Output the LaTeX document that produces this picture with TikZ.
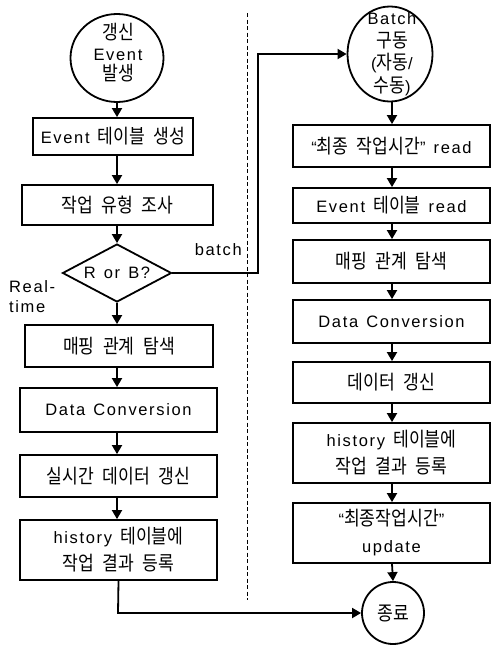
\documentclass[tikz,border=0pt]{standalone}
\usepackage{fontspec}
\usepackage{graphicx}
\usetikzlibrary{arrows.meta,shapes.geometric}
\setmainfont{Liberation Sans}[LetterSpace=10,WordSpace=1.3]
\newfontfamily\krf{Noto Sans CJK KR}[Scale=1.04,WordSpace=2.2]
\newcommand\K[1]{\scalebox{1}[1.15]{\krf #1}}
\tikzset{
  txt/.style={font=\fontsize{16.5}{21}\selectfont, align=center, inner sep=0pt},
  box/.style={draw, line width=1.8pt, rectangle, inner sep=0pt, txt},
  shp/.style={draw, line width=1.8pt, inner sep=0pt},
  arr/.style={line width=1.8pt, -{Triangle[length=9pt,width=10pt]}},
  lin/.style={line width=1.8pt},
  sep/.style={line width=1pt, dash pattern=on 4pt off 2.5pt}
}
\begin{document}
\begin{tikzpicture}[x=1pt,y=-1pt]
\useasboundingbox (0,0) rectangle (491,645);
% separator
\coordinate (s1) at (247,13);
\coordinate (s2) at (247,600);
\draw[sep] (s1) -- (s2);
% left column
\node[shp, ellipse, minimum width=93, minimum height=88] (c1) at (117,58) {};
\node[txt, font=\fontsize{16.5}{20.5}\selectfont] (c1t) at (118,53) {\K{갱신}\\Event\\\K{발생}};
\node[box, minimum width=160, minimum height=37] (l1) at (113,136.5) {Event \K{테이블 생성}};
\node[box, minimum width=191, minimum height=40] (l2) at (117.5,205) {\K{작업 유형 조사}};
\node[shp, diamond, minimum width=109, minimum height=58] (dia) at (117,273) {};
\node[txt] (diat) at (dia) {R or B?};
\node[box, minimum width=188, minimum height=42] (l3) at (119,346) {\K{매핑 관계 탐색}};
\node[box, minimum width=197, minimum height=44] (l4) at (118.5,410) {Data Conversion};
\node[box, minimum width=197, minimum height=42] (l5) at (118.5,476) {\K{실시간 데이터 갱신}};
\node[box, minimum width=197, minimum height=60, font=\fontsize{16.5}{27}\selectfont] (l6) at (118.5,550) {history \K{테이블에}\\\K{작업 결과 등록}};
\node[txt, anchor=east] (lb) at (242,250) {batch};
\node[txt, anchor=west, align=left, font=\fontsize{16.5}{20}\selectfont] (lr) at (9,297) {Real-\\time};
% right column
\node[shp, ellipse, minimum width=85, minimum height=95] (bc) at (390,54) {};
\node[txt, font=\fontsize{16.5}{22.5}\selectfont] (bct) at (392,54) {Batch\\\K{구동}\\(\K{자동}/\\\K{수동})};
\node[box, minimum width=197, minimum height=42] (r1) at (391.5,146) {“\K{최종 작업시간}” read};
\node[box, minimum width=197, minimum height=35] (r2) at (391.5,205.5) {Event \K{테이블} read};
\node[box, minimum width=197, minimum height=43] (r3) at (391.5,261.5) {\K{매핑 관계 탐색}};
\node[box, minimum width=197, minimum height=43] (r4) at (391.5,321.5) {Data Conversion};
\node[box, minimum width=197, minimum height=41] (r5) at (391.5,382.5) {\K{데이터 갱신}};
\node[box, minimum width=197, minimum height=60, font=\fontsize{16.5}{27}\selectfont] (r6) at (391.5,453) {history \K{테이블에}\\\K{작업 결과 등록}};
\node[box, minimum width=197, minimum height=60, font=\fontsize{16.5}{27}\selectfont] (r7) at (391.5,533) {“\K{최종작업시간}”\\update};
\node[shp, circle, minimum size=62, txt] (ec) at (393,613) {\K{종료}};
% left arrows
\coordinate (ax) at (117,0);
\draw[arr] (c1.south) -- (ax |- l1.north);
\draw[arr] (ax |- l1.south) -- (ax |- l2.north);
\draw[arr] (ax |- l2.south) -- (dia.north);
\draw[arr] (dia.south) -- (ax |- l3.north);
\draw[arr] (ax |- l3.south) -- (ax |- l4.north);
\draw[arr] (ax |- l4.south) -- (ax |- l5.north);
\draw[arr] (ax |- l5.south) -- (ax |- l6.north);
% right arrows
\coordinate (bx) at (392,0);
\draw[arr] (bx |- bc.south) -- (bx |- r1.north);
\draw[arr] (bx |- r1.south) -- (bx |- r2.north);
\draw[arr] (bx |- r2.south) -- (bx |- r3.north);
\draw[arr] (bx |- r3.south) -- (bx |- r4.north);
\draw[arr] (bx |- r4.south) -- (bx |- r5.north);
\draw[arr] (bx |- r5.south) -- (bx |- r6.north);
\draw[arr] (bx |- r6.south) -- (bx |- r7.north);
\draw[arr] (bx |- r7.south) -- (ec.north);
% batch branch
\coordinate (t1) at (258,273);
\coordinate (t2) at (258,54);
\draw[arr] (dia.east) -- (t1) -- (t2) -- (bc.west);
% to end
\coordinate (t3) at (118,613);
\draw[arr] (l6.south) -- (t3) -- (ec.west);
\end{tikzpicture}
\end{document}
